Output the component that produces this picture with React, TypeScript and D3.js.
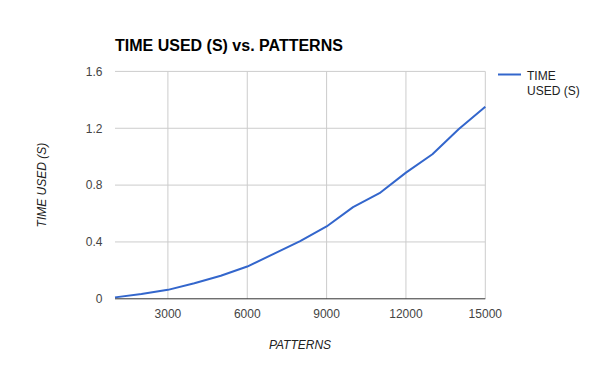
import React from "react";
import * as d3 from "d3";

const patterns = [1000, 2000, 3000, 4000, 5000, 6000, 7000, 8000, 9000, 10000, 11000, 12000, 13000, 14000, 15000];
const timeUsed = [0.01, 0.033, 0.063, 0.11, 0.162, 0.227, 0.316, 0.406, 0.509, 0.645, 0.743, 0.888, 1.017, 1.195, 1.352];
const xTicks = [3000, 6000, 9000, 12000, 15000];
const yTicks = [0, 0.4, 0.8, 1.2, 1.6];

const W = 600, H = 371;
const left = 115, right = 485.3, top = 71.4, bottom = 298.8;
const font = "Arial, 'Liberation Sans', sans-serif";

export default function App() {
  const x = d3.scaleLinear().domain([1000, 15000]).range([left, right]);
  const y = d3.scaleLinear().domain([0, 1.6]).range([bottom, top]);
  const line = d3.line<number>().x((_, i) => x(patterns[i])).y((d) => y(d));
  return (
    <svg width={W} height={H} style={{ position: "absolute", left: 0, top: 0 }} fontFamily={font}>
      <rect width={W} height={H} fill="#fff" />
      <text x={115} y={51} fontSize={16} fontWeight="bold" fill="#000">TIME USED (S) vs. PATTERNS</text>
      {yTicks.map((t) => (
        <g key={"y" + t}>
          {t !== 0 && <line x1={left} x2={right} y1={y(t)} y2={y(t)} stroke="#cccccc" strokeWidth={1} />}
          <text x={102.5} y={y(t) + 4.3} fontSize={12} textAnchor="end" fill="#444">{String(t)}</text>
        </g>
      ))}
      {xTicks.map((t) => (
        <g key={"x" + t}>
          <line x1={x(t)} x2={x(t)} y1={top} y2={bottom} stroke="#cccccc" strokeWidth={1} />
          <text x={x(t)} y={317.5} fontSize={12} textAnchor="middle" fill="#444">{String(t)}</text>
        </g>
      ))}
      <line x1={left} x2={right} y1={y(0)} y2={y(0)} stroke="#333" strokeWidth={1} />
      <path d={line(timeUsed) || ""} fill="none" stroke="#3366cc" strokeWidth={2} strokeLinejoin="round" />
      <text x={300} y={348.5} fontSize={12} fontStyle="italic" textAnchor="middle" fill="#222">PATTERNS</text>
      <text transform={`translate(46,${(top + bottom) / 2}) rotate(-90)`} fontSize={12} fontStyle="italic" textAnchor="middle" fill="#222">TIME USED (S)</text>
      <line x1={498} x2={521} y1={74.5} y2={74.5} stroke="#3366cc" strokeWidth={2} />
      <text x={527} y={79.5} fontSize={12} fill="#222">TIME</text>
      <text x={527} y={94.5} fontSize={12} fill="#222">USED (S)</text>
    </svg>
  );
}
